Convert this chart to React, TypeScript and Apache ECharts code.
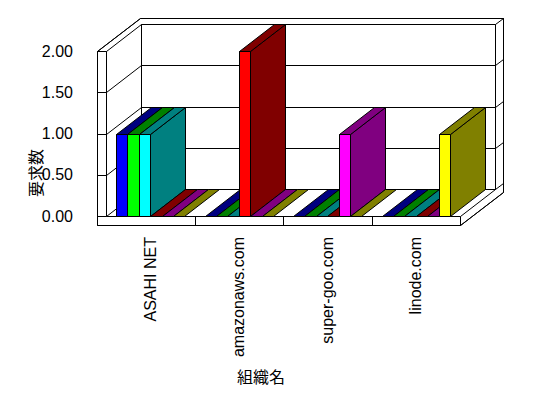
import React, { useEffect, useRef } from "react";
import * as echarts from "echarts";

const categories = ["ASAHI NET", "amazonaws.com", "super-goo.com", "linode.com"];
const series1 = [1, 0, 0, 0];
const series2 = [1, 0, 0, 0];
const series3 = [1, 0, 0, 0];
const series4 = [0, 2, 0, 0];
const series5 = [0, 0, 1, 0];
const series6 = [0, 0, 0, 1];
const seriesValues = [series1, series2, series3, series4, series5, series6];
const yTicks = [0, 0.5, 1, 1.5, 2];
const yAxisTitle = "要求数";
const xAxisTitle = "組織名";

const frontColors = ["#0000ff", "#00ff00", "#00ffff", "#ff0000", "#ff00ff", "#ffff00"];
const darkColors = ["#000080", "#008000", "#008080", "#800000", "#800080", "#808000"];

const DX = 35;
const DY = -27;
const ODX = 43;
const ODY = -33;
const T = 9;
const FONT = "'Liberation Sans', Arial, sans-serif";

const r = (v: number) => Math.round(v) + 0.5;
const stroke = { stroke: "#000", lineWidth: 1 };

function ln(x1: number, y1: number, x2: number, y2: number) {
  return {
    type: "line",
    shape: { x1: r(x1), y1: r(y1), x2: r(x2), y2: r(y2) },
    style: { ...stroke, fill: null },
  };
}
function poly(points: number[][], fill: string) {
  return {
    type: "polygon",
    shape: { points: points.map((p) => [r(p[0]), r(p[1])]) },
    style: { ...stroke, fill },
  };
}

export default function App() {
  const ref = useRef<HTMLDivElement>(null);
  useEffect(() => {
    if (!ref.current) return;
    const chart = echarts.init(ref.current, null, { renderer: "svg" });

    const barData: number[][] = [];
    categories.forEach((_, c) => {
      seriesValues.forEach((vals, s) => {
        barData.push([c, s, vals[c]]);
      });
    });

    const frameRender = (params: any, api: any) => {
      const cs = params.coordSys;
      const x0 = cs.x;
      const x1 = cs.x + cs.width;
      const yTop = cs.y;
      const yBot = cs.y + cs.height;
      const children: any[] = [];
      children.push(
        poly(
          [
            [x0 - T, yTop],
            [x0 - T + ODX, yTop + ODY],
            [x1 + ODX, yTop + ODY],
            [x1 + ODX, yBot + T + ODY],
            [x1, yBot + T],
            [x0 - T, yBot + T],
          ],
          "#fff"
        )
      );
      children.push(
        poly(
          [
            [x0 + DX, yTop + DY],
            [x1 + DX, yTop + DY],
            [x1 + DX, yBot + DY],
            [x0 + DX, yBot + DY],
          ],
          "#fff"
        )
      );
      children.push(ln(x0 - T, yTop, x0 - T, yBot + T));
      children.push(ln(x0, yTop, x0, yBot));
      children.push(ln(x0 - T, yTop, x0, yTop));
      children.push(ln(x0, yBot, x1, yBot));
      children.push(ln(x0 - T, yBot + T, x1, yBot + T));
      children.push(ln(x1, yBot, x1, yBot + T));
      children.push(ln(x0 - T, yTop, x0 - T + ODX, yTop + ODY));
      children.push(ln(x0 - T + ODX, yTop + ODY, x1 + ODX, yTop + ODY));
      children.push(ln(x1 + ODX, yTop + ODY, x1 + ODX, yBot + T + ODY));
      children.push(ln(x1, yBot, x1 + DX, yBot + DY));
      children.push(ln(x1, yBot + T, x1 + ODX, yBot + T + ODY));
      yTicks.forEach((v) => {
        const yy = api.coord([0, v])[1];
        children.push(ln(x0 + DX, yy + DY, x1 + DX, yy + DY));
        children.push(ln(x0, yy, x0 + DX, yy + DY));
        children.push(ln(x0 - T, yy, x0, yy));
        children.push(ln(x1 + DX, yy + DY, x1 + ODX, yy + ODY));
      });
      for (let i = 1; i < categories.length; i++) {
        const xx = x0 + (cs.width / categories.length) * i;
        children.push(ln(xx, yBot, xx, yBot + T));
      }
      return { type: "group", children };
    };

    const barRender = (params: any, api: any) => {
      const c = api.value(0);
      const s = api.value(1);
      const v = api.value(2);
      const [cx, yv] = api.coord([c, v]);
      const y0 = api.coord([c, 0])[1];
      const cw = api.size([1, 0])[0];
      const bw = cw * 0.1287;
      const xl = cx - 3 * bw + s * bw;
      const xr = xl + bw;
      const children: any[] = [];
      if (v > 0) {
        children.push(
          poly(
            [
              [xr, yv],
              [xr, y0],
              [xr + DX, y0 + DY],
              [xr + DX, yv + DY],
            ],
            darkColors[s]
          )
        );
        children.push(
          poly(
            [
              [xl, yv],
              [xr, yv],
              [xr, y0],
              [xl, y0],
            ],
            frontColors[s]
          )
        );
      }
      children.push(
        poly(
          [
            [xl, yv],
            [xr, yv],
            [xr + DX, yv + DY],
            [xl + DX, yv + DY],
          ],
          darkColors[s]
        )
      );
      return { type: "group", children };
    };

    chart.setOption({
      animation: false,
      backgroundColor: "#fff",
      textStyle: { fontFamily: FONT },
      grid: { left: 106, right: 88, top: 51, bottom: 182 },
      xAxis: {
        type: "category",
        data: categories,
        axisLine: { show: false },
        axisTick: { show: false },
        axisLabel: {
          rotate: 90,
          margin: 21,
          fontSize: 16,
          color: "#000",
          fontFamily: FONT,
          interval: 0,
        },
        splitLine: { show: false },
      },
      yAxis: {
        type: "value",
        min: 0,
        max: 2,
        interval: 0.5,
        axisLine: { show: false },
        axisTick: { show: false },
        splitLine: { show: false },
        axisLabel: {
          margin: 33,
          fontSize: 16,
          color: "#000",
          fontFamily: FONT,
          formatter: (val: number) => val.toFixed(2),
        },
      },
      graphic: [
        {
          type: "text",
          x: 35,
          y: 173,
          rotation: Math.PI / 2,
          style: {
            text: yAxisTitle,
            fontSize: 16,
            fontFamily: "'Noto Sans CJK JP', sans-serif",
            fill: "#000",
            align: "center",
            verticalAlign: "middle",
            textAlign: "center",
            textVerticalAlign: "middle",
          },
        },
        {
          type: "text",
          x: 261,
          y: 376,
          style: {
            text: xAxisTitle,
            fontSize: 16,
            fontFamily: "'Noto Sans CJK JP', sans-serif",
            fill: "#000",
            align: "center",
            verticalAlign: "middle",
            textAlign: "center",
            textVerticalAlign: "middle",
          },
        },
      ],
      series: [
        {
          type: "custom",
          z: 1,
          silent: true,
          data: [[0, 0]],
          renderItem: frameRender,
        },
        {
          type: "custom",
          z: 2,
          data: barData,
          encode: { x: 0, y: 2 },
          renderItem: barRender,
        },
      ],
    });
    return () => chart.dispose();
  }, []);
  return <div ref={ref} style={{ width: 548, height: 398, position: "absolute", left: 0, top: 0 }} />;
}
